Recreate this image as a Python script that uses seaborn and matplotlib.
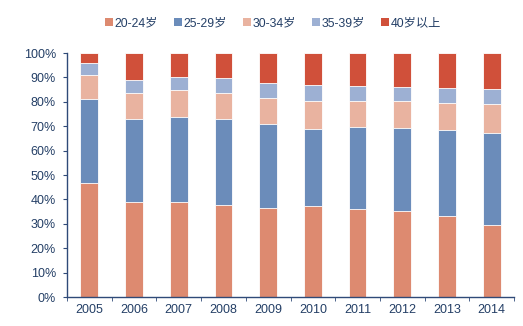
import matplotlib
matplotlib.use("Agg")
import matplotlib.pyplot as plt
import seaborn as sns
import pandas as pd
import numpy as np
from matplotlib.patches import Patch
from matplotlib.ticker import FixedLocator

years = ["2005", "2006", "2007", "2008", "2009", "2010", "2011", "2012", "2013", "2014"]
series_names = ["20-24岁", "25-29岁", "30-34岁", "35-39岁", "40岁以上"]
s_20_24 = [46.7, 39.0, 39.0, 37.7, 36.6, 37.3, 36.1, 35.1, 33.1, 29.5]
s_25_29 = [34.3, 33.8, 34.6, 35.1, 34.2, 31.7, 33.4, 34.3, 35.2, 37.8]
s_30_34 = [10.1, 10.7, 11.1, 10.9, 10.9, 11.3, 10.8, 10.9, 11.1, 11.7]
s_35_39 = [4.9, 5.5, 5.6, 5.9, 5.9, 6.7, 6.3, 5.9, 6.3, 6.2]
s_40p = [4.0, 11.0, 9.7, 10.4, 12.4, 13.0, 13.4, 13.8, 14.3, 14.8]
colors = ["#DD8A70", "#6B8CBA", "#E9B3A0", "#9DB0D3", "#D0503A"]

sns.set_style("white")
plt.rcParams["font.family"] = ["Liberation Sans", "Noto Sans CJK SC", "DejaVu Sans"]

series = [s_20_24, s_25_29, s_30_34, s_35_39, s_40p]
cum = np.cumsum(np.array(series), axis=0)
rows = []
for i, name in enumerate(series_names):
    for j, y in enumerate(years):
        rows.append({"year": y, "series": name, "cum": cum[i, j]})
df = pd.DataFrame(rows)

fig = plt.figure(figsize=(5.23, 3.26), dpi=100)
ax = fig.add_axes([67 / 523, (326 - 297) / 326, (514 - 67) / 523, (297 - 53) / 326])

for i in range(len(series_names) - 1, -1, -1):
    sub = df[df["series"] == series_names[i]]
    sns.barplot(data=sub, x="year", y="cum", color=colors[i], width=0.4,
                edgecolor="white", linewidth=0.6, saturation=1, ax=ax, order=years)

axis_col = "#2F4A78"
text_col = "#243F66"
ax.set_xlim(-0.5, len(years) - 0.5)
ax.set_ylim(0, 100)
ax.set_yticks(np.arange(0, 101, 10))
ax.set_yticklabels([f"{v}%" for v in range(0, 101, 10)])
ax.set_xlabel("")
ax.set_ylabel("")
for s in ["top", "right"]:
    ax.spines[s].set_visible(False)
for s in ["left", "bottom"]:
    ax.spines[s].set_color(axis_col)
    ax.spines[s].set_linewidth(1.0)
ax.tick_params(axis="y", direction="out", length=3, color=axis_col, labelcolor=text_col,
               labelsize=9, pad=5, left=True)
ax.tick_params(axis="x", which="major", length=0, labelcolor=text_col, labelsize=9, pad=5)
ax.xaxis.set_minor_locator(FixedLocator(np.arange(-0.5, len(years), 1.0)))
ax.tick_params(axis="x", which="minor", direction="out", length=3, color=axis_col, bottom=True)

handles = [Patch(facecolor=c, edgecolor="none") for c in colors]
fig.legend(handles, series_names, loc="center", bbox_to_anchor=(273 / 523, 1 - 23 / 326),
           ncol=5, frameon=False, fontsize=8.8, handlelength=0.65, handleheight=0.65,
           handletextpad=0.15, columnspacing=1.3, labelcolor=text_col)

fig.savefig("out.png", dpi=100)
